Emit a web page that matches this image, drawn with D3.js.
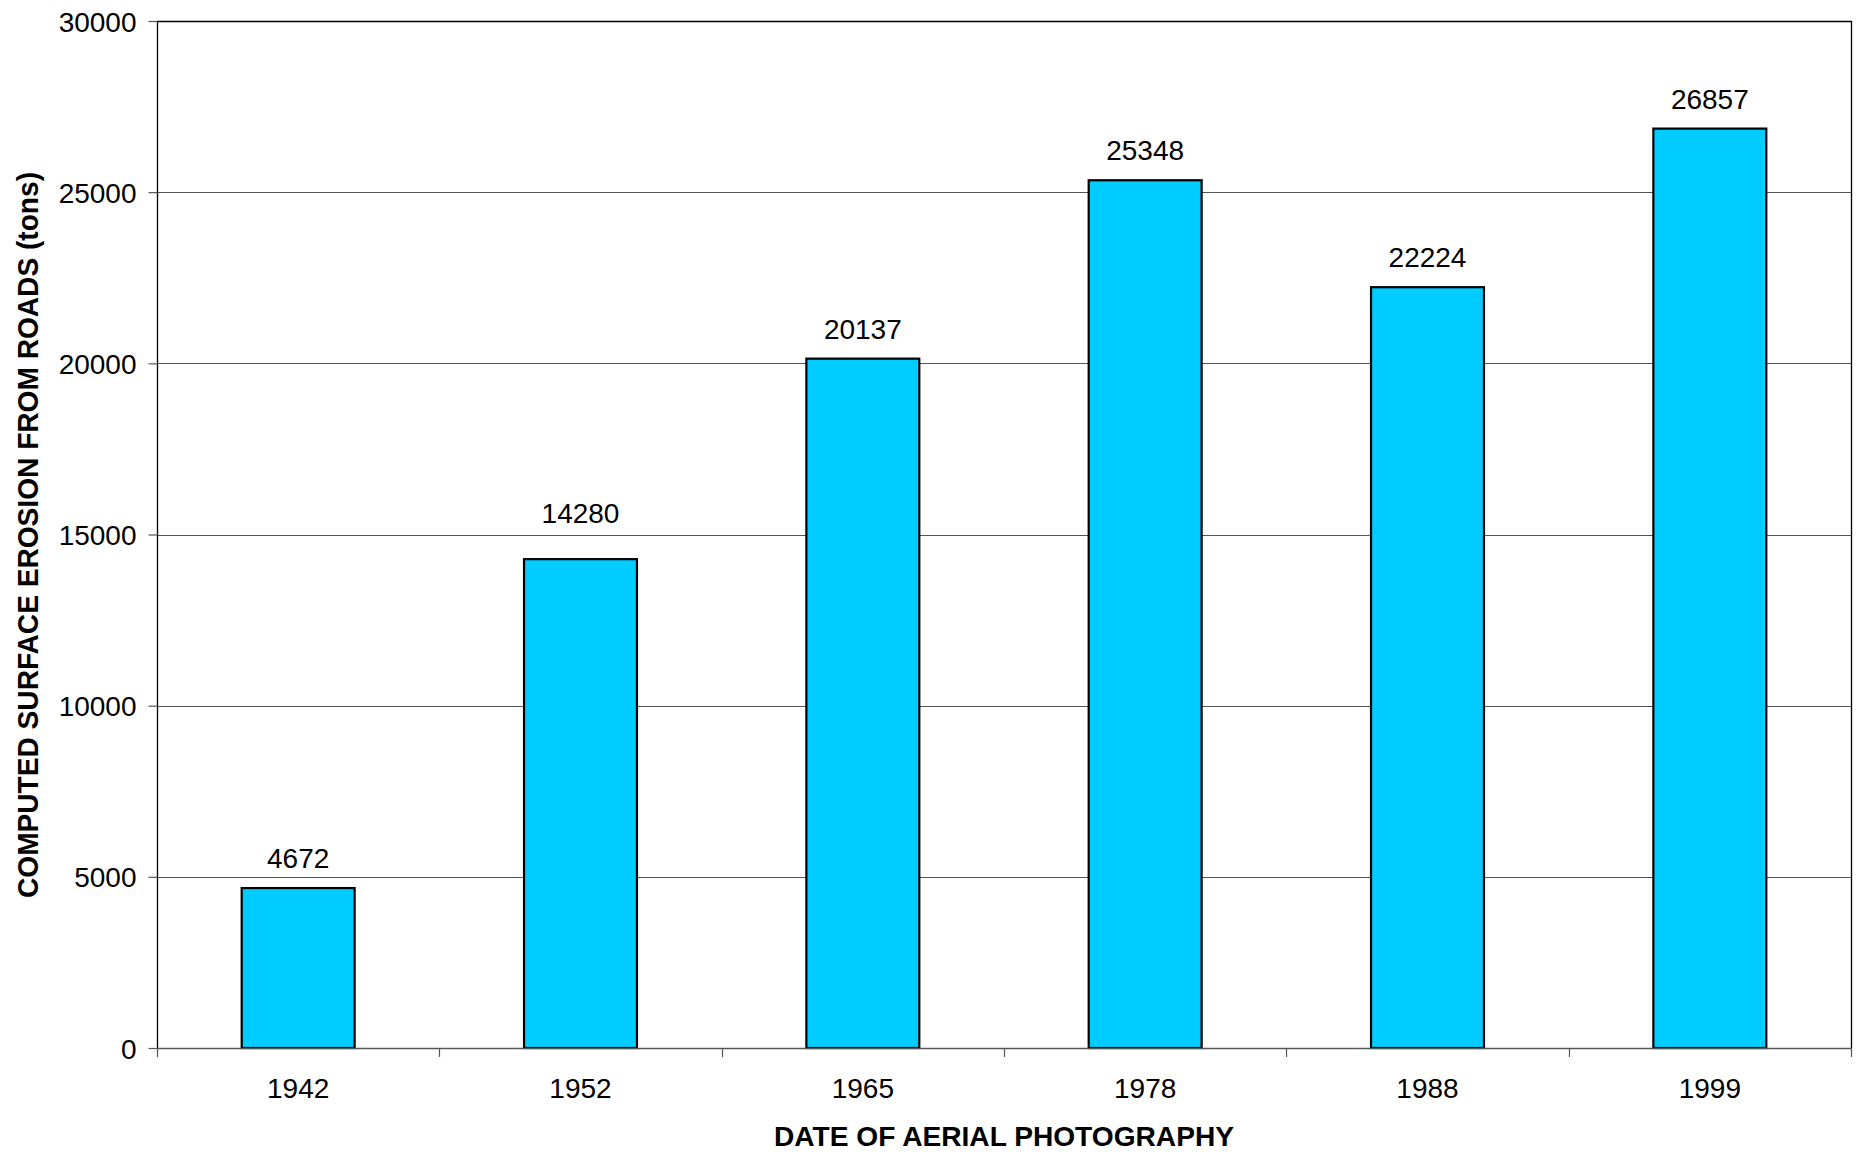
<!DOCTYPE html>
<html>
<head>
<meta charset="utf-8">
<script src="https://cdn.jsdelivr.net/npm/d3@7"></script>
<style>
  html, body { margin: 0; padding: 0; background: #fff; }
  svg { display: block; }
  text { font-family: Arial, "Liberation Sans", sans-serif; fill: #000; }
</style>
</head>
<body>
<svg id="chart" width="1858" height="1152"></svg>
<script>
const categories = ["1942", "1952", "1965", "1978", "1988", "1999"];
const erosionTons = [4672, 14280, 20137, 25348, 22224, 26857];
const yTicks = [0, 5000, 10000, 15000, 20000, 25000, 30000];
const xTitle = "DATE OF AERIAL PHOTOGRAPHY";
const yTitle = "COMPUTED SURFACE EROSION FROM ROADS (tons)";

const svg = d3.select("#chart");
const pLeft = 157, pRight = 1851, pTop = 21, pBottom = 1048;
const fs = 28;

const x = d3.scaleBand().domain(categories).range([pLeft, pRight]).paddingInner(0.6).paddingOuter(0.3);
const y = d3.scaleLinear().domain([0, 30000]).range([pBottom, pTop]);

// gridlines
svg.append("g").selectAll("line").data(yTicks.filter(d => d > 0 && d < 30000)).join("line")
  .attr("x1", pLeft).attr("x2", pRight)
  .attr("y1", d => Math.round(y(d)) + 0.5).attr("y2", d => Math.round(y(d)) + 0.5)
  .attr("stroke", "#555").attr("stroke-width", 1.2);

// top & right border
svg.append("path")
  .attr("d", `M${pLeft},${pTop + 0.5}H${pRight + 0.5}V${pBottom}`)
  .attr("fill", "none").attr("stroke", "#000").attr("stroke-width", 1.3);

// bars
svg.append("g").selectAll("rect").data(erosionTons).join("rect")
  .attr("x", (d, i) => x(categories[i]))
  .attr("width", x.bandwidth())
  .attr("y", d => y(d))
  .attr("height", d => y(0) - y(d))
  .attr("fill", "#00CCFF")
  .attr("stroke", "#000").attr("stroke-width", 2.2);

// value labels
svg.append("g").selectAll("text").data(erosionTons).join("text")
  .attr("x", (d, i) => x(categories[i]) + x.bandwidth() / 2)
  .attr("y", (d, i) => y(d) - (i === 1 ? 36 : 20))
  .attr("text-anchor", "middle")
  .attr("font-size", fs)
  .text(d => d);

// y axis
const yAxis = d3.axisLeft(y).tickValues(yTicks).tickSize(9).tickPadding(12).tickFormat(d3.format("d"));
const gy = svg.append("g").attr("transform", `translate(${pLeft + 0.5},0)`).call(yAxis);
gy.select(".domain").attr("stroke", "#000").attr("stroke-width", 1.3).attr("d", `M0,${pTop}V${pBottom}`);
gy.selectAll(".tick line").attr("stroke", "#555").attr("stroke-width", 1.2);
gy.selectAll(".tick text").attr("font-size", fs).attr("font-family", "Arial, 'Liberation Sans', sans-serif").attr("fill", "#000").attr("dy", "0.36em");

// x axis: ticks at band boundaries
const boundaries = d3.range(categories.length + 1).map(i => pLeft + i * x.step());
const gx = svg.append("g");
gx.append("line").attr("x1", pLeft).attr("x2", pRight).attr("y1", pBottom + 0.5).attr("y2", pBottom + 0.5)
  .attr("stroke", "#555").attr("stroke-width", 1.4);
gx.selectAll("line.tk").data(boundaries).join("line").attr("class", "tk")
  .attr("x1", d => Math.round(d) + 0.5).attr("x2", d => Math.round(d) + 0.5)
  .attr("y1", pBottom).attr("y2", pBottom + 9)
  .attr("stroke", "#555").attr("stroke-width", 1.2);
gx.selectAll("text").data(categories).join("text")
  .attr("x", d => x(d) + x.bandwidth() / 2)
  .attr("y", 1098)
  .attr("text-anchor", "middle")
  .attr("font-size", fs)
  .text(d => d);

// axis titles
svg.append("text")
  .attr("x", 1004).attr("y", 1146)
  .attr("text-anchor", "middle")
  .attr("font-size", 28).attr("font-weight", "bold")
  .attr("textLength", 460).attr("lengthAdjust", "spacingAndGlyphs")
  .text(xTitle);

svg.append("text")
  .attr("transform", "translate(38,535) rotate(-90)")
  .attr("text-anchor", "middle")
  .attr("font-size", 29).attr("font-weight", "bold")
  .attr("textLength", 726).attr("lengthAdjust", "spacingAndGlyphs")
  .text(yTitle);
</script>
</body>
</html>
